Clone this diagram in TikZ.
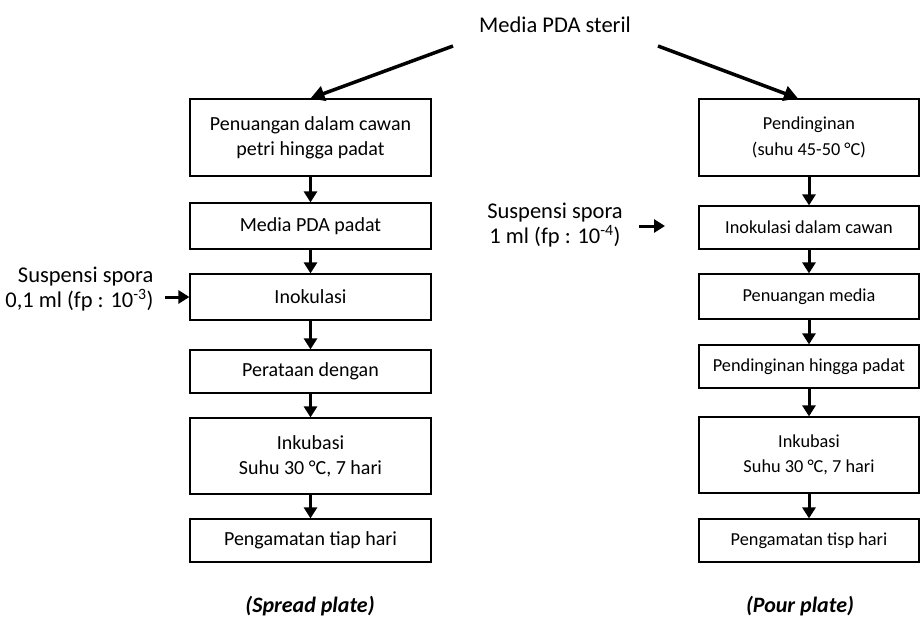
\documentclass[tikz,border=0pt]{standalone}
\usepackage{fontspec}
\setmainfont{Carlito}
\usepackage{tikz}
\usetikzlibrary{arrows.meta}
\tikzset{
    leftbox/.style={
        draw,
        line width=1.2pt,
        minimum width=241pt,
        inner sep=0pt,
        align=center,
        font=\fontsize{20}{25}\selectfont
    },
    rightbox/.style={
        draw,
        line width=1.2pt,
        minimum width=220pt,
        inner sep=0pt,
        align=center,
        font=\fontsize{18.3}{25.5}\selectfont
    },
    % 竖直箭头与斜箭头
    downarrow/.style={
        line width=3pt,
        black,
        ->,
        >={Triangle[length=11pt, width=13pt]}
    },
    slantarrow/.style={
        line width=3.5pt,
        black,
        ->,
        >={Triangle[length=14pt, width=15pt]}
    },
    sidetext/.style={font=\fontsize{22.5}{25}\selectfont},
    platetext/.style={font=\fontsize{22}{22}\selectfont\bfseries\itshape,anchor=base}
}

\begin{document}
\begin{tikzpicture}[x=1pt,y=-1pt]
    \useasboundingbox (0,0) rectangle (921,619);
    \node[sidetext,anchor=base] (top) at (555,32) {Media PDA steril};

    \node[leftbox,minimum height=77pt] (L1) at (310.5,137.5) {Penuangan dalam cawan\\petri hingga padat};
    \node[leftbox,minimum height=46pt] (L2) at (310.5,226) {Media PDA padat};
    \node[leftbox,minimum height=46pt] (L3) at (310.5,297) {Inokulasi};
    \node[leftbox,minimum height=43pt] (L4) at (310.5,371.5) {Perataan dengan};
    \node[leftbox,minimum height=76pt] (L5) at (310.5,456) {Inkubasi\\Suhu 30 °C, 7 hari};
    \node[leftbox,minimum height=43pt] (L6) at (310.5,540.5) {Pengamatan tiap hari};

    \node[rightbox,minimum height=77pt] (R1) at (809,137.5) {Pendinginan\\(suhu 45-50 °C)};
    \node[rightbox,minimum height=43pt] (R2) at (809,227.5) {Inokulasi dalam cawan};
    \node[rightbox,minimum height=45pt] (R3) at (809,296.5) {Penuangan media};
    \node[rightbox,minimum height=43pt] (R4) at (809,366.5) {Pendinginan hingga padat};
    \node[rightbox,minimum height=76pt] (R5) at (809,455) {Inkubasi\\Suhu 30 °C, 7 hari};
    \node[rightbox,minimum height=43pt] (R6) at (809,540.5) {Pengamatan tisp hari};

    \node[sidetext,align=right,anchor=east] (sL) at (157,289) {Suspensi spora\\0,1 ml (fp : 10\textsuperscript{-3})};
    \node[sidetext,align=center] (sR) at (555,225) {Suspensi spora\\1 ml (fp : 10\textsuperscript{-4})};

    \coordinate (tl) at (453,46);
    \coordinate (tr) at (658,46);
    \coordinate (aL) at (165,297);
    \coordinate (aR1) at (639,226);
    \coordinate (aR2) at (665,226);

    \draw[slantarrow] (tl) -- (L1.north);
    \draw[slantarrow] (tr) -- ([xshift=-11pt]R1.north);
    \draw[downarrow] (L1) -- (L2);
    \draw[downarrow] (L2) -- (L3);
    \draw[downarrow] (L3) -- (L4);
    \draw[downarrow] (L4) -- (L5);
    \draw[downarrow] (L5) -- (L6);
    \draw[downarrow] (R1) -- (R2);
    \draw[downarrow] (R2) -- (R3);
    \draw[downarrow] (R3) -- (R4);
    \draw[downarrow] (R4) -- (R5);
    \draw[downarrow] (R5) -- (R6);
    \draw[downarrow] (aL) -- (L3.west);
    \draw[downarrow] (aR1) -- (aR2);

    \node[platetext] (spread) at (310,612) {(Spread plate)};
    \node[platetext] (pour) at (800,612) {(Pour plate)};
\end{tikzpicture}
\end{document}
